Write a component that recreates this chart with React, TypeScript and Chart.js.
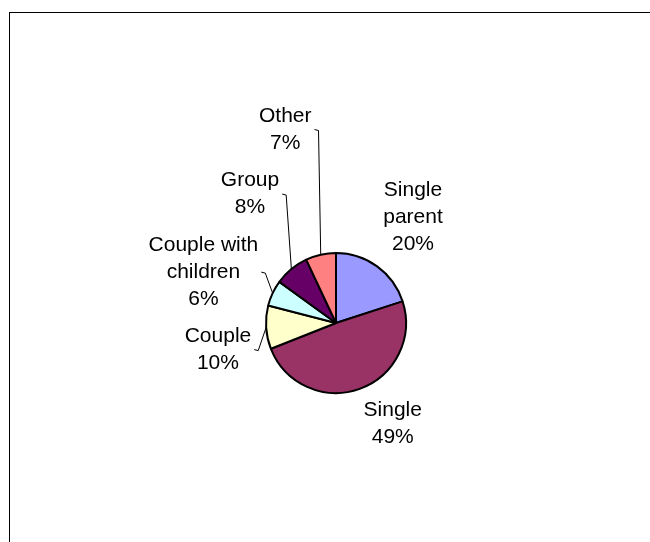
import React, { useEffect, useRef } from "react";
import { Chart, registerables } from "chart.js";

Chart.register(...registerables);

const categories = ["Single parent", "Single", "Couple", "Couple with children", "Group", "Other"];
const labelLines = [["Single", "parent"], ["Single"], ["Couple"], ["Couple with", "children"], ["Group"], ["Other"]];
const values = [20, 49, 10, 6, 8, 7];
const colors = ["#9999FF", "#993366", "#FFFFCC", "#CCFFFF", "#660066", "#FF8080"];

// label placement: distance from centre and angle nudge (degrees) from slice mid-angle
const labelDistance = [131, 116, 121, 142, 155, 200];
const labelNudge = [0, -9.5, -9.1, -4.2, 5.9, -2.1];
const showLeader = [false, false, true, true, true, true];

const FONT = "21px 'Liberation Sans', Arial, sans-serif";
const LINE_H = 27;

const labelPlugin = {
  id: "excelLabels",
  beforeDraw(chart: any) {
    const ctx = chart.ctx;
    ctx.save();
    ctx.fillStyle = "#ffffff";
    ctx.fillRect(0, 0, chart.width, chart.height);
    ctx.strokeStyle = "#000000";
    ctx.lineWidth = 1;
    ctx.strokeRect(9.5, 12.5, 700, 600);
    ctx.restore();
  },
  afterDraw(chart: any) {
    const ctx = chart.ctx;
    const meta = chart.getDatasetMeta(0);
    const total = values.reduce((a, b) => a + b, 0);
    ctx.save();
    ctx.font = FONT;
    ctx.fillStyle = "#000000";
    ctx.textAlign = "center";
    ctx.textBaseline = "middle";
    meta.data.forEach((arc: any, i: number) => {
      const { x: cx, y: cy, startAngle, endAngle, outerRadius } = arc.getProps(
        ["x", "y", "startAngle", "endAngle", "outerRadius"],
        true
      );
      const mid = (startAngle + endAngle) / 2;
      const a = mid + (labelNudge[i] * Math.PI) / 180;
      const lx = cx + labelDistance[i] * Math.cos(a);
      const ly = cy + labelDistance[i] * Math.sin(a);
      const lines = [...labelLines[i], Math.round((values[i] / total) * 100) + "%"];
      const top = ly - ((lines.length - 1) * LINE_H) / 2;
      let maxW = 0;
      lines.forEach((t, k) => {
        ctx.fillText(t, lx, top + k * LINE_H);
        maxW = Math.max(maxW, ctx.measureText(t).width);
      });
      if (showLeader[i]) {
        const ex = lx + maxW / 2 + 3;
        const px = cx + outerRadius * Math.cos(mid);
        const py = cy + outerRadius * Math.sin(mid);
        ctx.beginPath();
        ctx.strokeStyle = "#000000";
        ctx.lineWidth = 1;
        ctx.moveTo(ex, ly);
        ctx.lineTo(ex + 4, ly + 1);
        ctx.lineTo(px, py);
        ctx.stroke();
      }
    });
    ctx.restore();
  },
};

export default function App() {
  const ref = useRef<HTMLCanvasElement | null>(null);
  useEffect(() => {
    document.body.style.margin = "0";
    const chart = new Chart(ref.current as HTMLCanvasElement, {
      type: "pie",
      data: {
        labels: categories,
        datasets: [
          {
            data: values,
            backgroundColor: colors,
            borderColor: "#000000",
            borderWidth: 2,
          },
        ],
      },
      options: {
        animation: false,
        responsive: false,
        radius: 70,
        layout: { padding: { left: 22, right: 0, top: 104, bottom: 0 } },
        plugins: {
          legend: { display: false },
          tooltip: { enabled: false },
        },
      } as any,
      plugins: [labelPlugin],
    });
    return () => chart.destroy();
  }, []);
  return (
    <div style={{ position: "absolute", left: 0, top: 0, width: 650, height: 542 }}>
      <canvas ref={ref} width={650} height={542} />
    </div>
  );
}
